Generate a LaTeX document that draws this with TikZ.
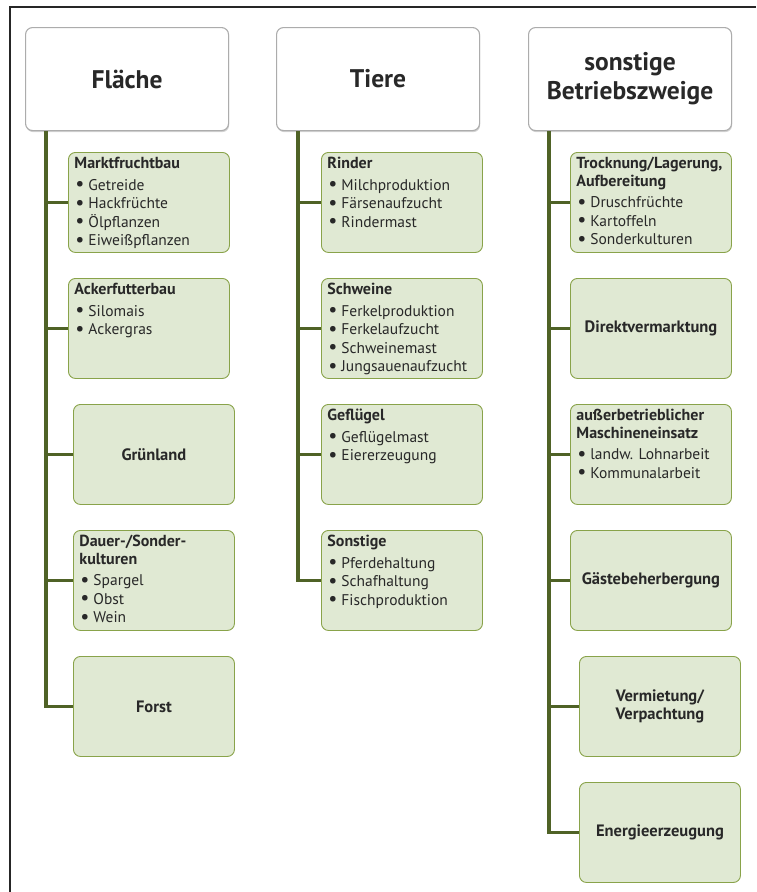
\documentclass[tikz,border=0pt]{standalone}
\usepackage{fontspec}
\setmainfont{PT Sans}
\usetikzlibrary{positioning}
\usetikzlibrary{shadows}
\definecolor{leaffill}{RGB}{224,233,211}
\definecolor{leafline}{RGB}{137,163,74}
\definecolor{stem}{RGB}{79,98,38}
\definecolor{ink}{RGB}{40,40,40}
\newcommand{\bul}{\hspace*{1pt}\makebox[13pt][l]{\raisebox{-0.3pt}{\scalebox{1.3}{\textbullet}}}}
\newcommand{\liste}[2]{\parbox[t][90pt][t]{149pt}{\raggedright
  \fontsize{16}{17.5}\selectfont\bfseries #1\par\vspace{3pt}
  \fontsize{15.5}{18.5}\selectfont\mdseries #2}}
\tikzset{
  head/.style={draw=gray!65, line width=1.1pt, fill=white, rounded corners=7pt,
    minimum width=203pt, minimum height=103pt, anchor=north west, align=center,
    text=ink, font=\fontsize{25.5}{29}\selectfont\bfseries,
    drop shadow={shadow xshift=0.6pt, shadow yshift=-1.6pt, opacity=0.35}},
  leaf/.style={draw=leafline, fill=leaffill, line width=0.9pt, rounded corners=7pt,
    minimum width=161pt, minimum height=100pt, anchor=north west,
    inner xsep=6pt, inner ysep=5pt, text=ink},
  solo/.style={leaf, align=center, font=\fontsize{16.5}{18}\selectfont\bfseries},
  tree/.style={draw=stem, line width=3.5pt}
}

\begin{document}
\begin{tikzpicture}[x=1pt,y=-1pt]
\useasboundingbox (0,0) rectangle (756,892);
\draw[gray!30!black, line width=1.3pt] (10,892) -- (10,7) -- (756,7);
%-----Kopfzeile-----
\node[head] (fl) at (25,27) {Fläche};
\node[head] (ti) at (276,27) {Tiere};
\node[head] (sb) at (528,27) {sonstige\\Betriebszweige};
%-----Fläche-----
\node[leaf] (mfb) at (68,152) {\liste{Marktfruchtbau}{\bul Getreide\\\bul Hackfrüchte\\\bul Ölpflanzen\\\bul Eiweißpflanzen}};
\node[leaf] (afb) at (68,278) {\liste{Ackerfutterbau}{\bul Silomais\\\bul Ackergras}};
\node[solo] (gru) at (73,404) {Grünland};
\node[leaf] (dsk) at (73,530) {\liste{Dauer-/Sonder-\\kulturen}{\bul Spargel\\\bul Obst\\\bul Wein}};
\node[solo] (forst) at (73,656) {Forst};
%-----Tiere-----
\node[leaf] (rind) at (321,152) {\liste{Rinder}{\bul Milchproduktion\\\bul Färsenaufzucht\\\bul Rindermast}};
\node[leaf] (schw) at (321,278) {\liste{Schweine}{\bul Ferkelproduktion\\\bul Ferkelaufzucht\\\bul Schweinemast\\\bul Jungsauenaufzucht}};
\node[leaf] (gefl) at (321,404) {\liste{Geflügel}{\bul Geflügelmast\\\bul Eiererzeugung}};
\node[leaf] (sons) at (321,530) {\liste{Sonstige}{\bul Pferdehaltung\\\bul Schafhaltung\\\bul Fischproduktion}};
%-----sonstige Betriebszweige-----
\node[leaf] (trock) at (570,152) {\liste{Trocknung/Lagerung,\\Aufbereitung}{\bul Druschfrüchte\\\bul Kartoffeln\\\bul Sonderkulturen}};
\node[solo] (dv) at (570,278) {Direktvermarktung};
\node[leaf] (masch) at (570,404) {\liste{außerbetrieblicher\\Maschineneinsatz}{\bul landw. Lohnarbeit\\\bul Kommunalarbeit}};
\node[solo] (gast) at (570,530) {Gästebeherbergung};
\node[solo] (verm) at (579,656) {Vermietung/\\Verpachtung};
\node[solo] (ener) at (579,782) {Energieerzeugung};
%-----Verbindungen-----
\foreach \k in {mfb,afb,gru,dsk,forst}
  \draw[tree] ([xshift=21pt]fl.south west) |- (\k.west);
\foreach \k in {rind,schw,gefl,sons}
  \draw[tree] ([xshift=22pt]ti.south west) |- (\k.west);
\foreach \k in {trock,dv,masch,gast,verm,ener}
  \draw[tree] ([xshift=21pt]sb.south west) |- (\k.west);
\end{tikzpicture}
\end{document}
